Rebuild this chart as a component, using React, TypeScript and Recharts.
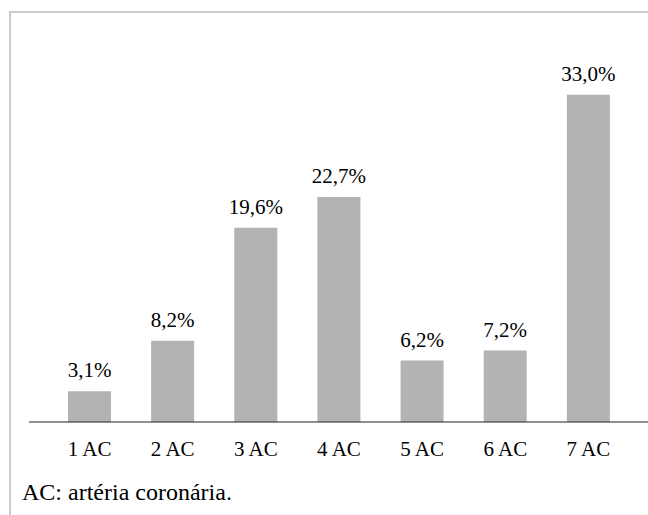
import React from 'react';
import { BarChart, Bar, XAxis, YAxis, LabelList } from 'recharts';

const categories = ['1 AC', '2 AC', '3 AC', '4 AC', '5 AC', '6 AC', '7 AC'];
const percents = [3.1, 8.2, 19.6, 22.7, 6.2, 7.2, 33.0];
const caption = 'AC: artéria coronária.';

const data = categories.map((name, i) => ({ name, value: percents[i] }));

const font = 'Liberation Serif';

export default function App() {
  return (
    <div
      style={{
        position: 'fixed',
        left: 0,
        top: 0,
        width: 648,
        height: 515,
        overflow: 'hidden',
        background: '#fff',
        fontFamily: font,
      }}
    >
      <div
        style={{
          position: 'absolute',
          left: 9,
          top: 11,
          width: 700,
          height: 560,
          borderTop: '2px solid #cbcbcb',
          borderLeft: '2px solid #cbcbcb',
        }}
      />
      <div style={{ position: 'absolute', left: 11, top: 13 }}>
        <BarChart
          width={637}
          height={450}
          data={data}
          margin={{ top: 62, right: 0, bottom: 1, left: 18 }}
          barSize={43}
        >
          <XAxis
            dataKey="name"
            height={40}
            padding={{ left: 19, right: 18 }}
            axisLine={{ stroke: '#222', strokeWidth: 1.2 }}
            tickLine={false}
            tickMargin={13}
            tick={{ fill: '#000', fontSize: 21, fontFamily: font }}
            interval={0}
          />
          <YAxis hide domain={[0, 35]} />
          <Bar dataKey="value" fill="#b3b3b3" isAnimationActive={false}>
            <LabelList
              dataKey="value"
              position="top"
              offset={14}
              fill="#000"
              fontSize={21}
              fontFamily={font}
              formatter={(v: number) => `${v.toFixed(1).replace('.', ',')}%`}
            />
          </Bar>
        </BarChart>
      </div>
      <div
        style={{
          position: 'absolute',
          left: 22,
          top: 479,
          fontSize: 24,
          lineHeight: '27px',
          fontFamily: font,
          color: '#000',
          whiteSpace: 'nowrap',
        }}
      >
        {caption}
      </div>
    </div>
  );
}
